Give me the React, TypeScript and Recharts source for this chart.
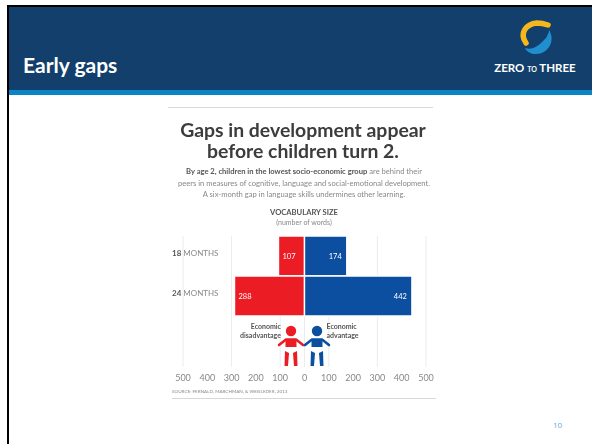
import React from "react";
import { Bar, BarChart, CartesianGrid, LabelList, XAxis, YAxis } from "recharts";

const months = ["18", "24"];
const disadvantage = [107, 288];
const advantage = [174, 442];
const axisTicks = [-500, -400, -300, -200, -100, 0, 100, 200, 300, 400, 500];

const subtitle = [
  "peers in measures of cognitive, language and social-emotional development.",
  "A six-month gap in language skills undermines other learning.",
];

const data = months.map((m, i) => ({
  month: m,
  low: -disadvantage[i],
  high: advantage[i],
}));

const FONT = "Lato, sans-serif";
const RED = "#ec1c24";
const BLUE = "#0c4fa0";

function MonthTick({ y, payload }: any) {
  return (
    <text x={172} y={y} fontFamily={FONT} fontSize={8} fill="#888">
      <tspan fontWeight={700} fill="#555">{payload.value}</tspan> MONTHS
    </text>
  );
}

const centered = (top: number, size: number, color: string, weight = 400): React.CSSProperties => ({
  position: "absolute",
  left: 104,
  width: 400,
  top,
  textAlign: "center",
  fontFamily: FONT,
  fontSize: size,
  lineHeight: `${size + 2}px`,
  color,
  fontWeight: weight,
  whiteSpace: "nowrap",
});

function Kid({ cx, color }: { cx: number; color: string }) {
  return (
    <g>
      <circle cx={cx} cy={331} r={5.2} fill={color} />
      <path
        d={`M${cx - 12} 345 L${cx - 5} 339.5 L${cx + 5} 339.5 L${cx + 12} 345`}
        fill="none"
        stroke={color}
        strokeWidth={2.6}
        strokeLinecap="round"
        strokeLinejoin="round"
      />
      <path d={`M${cx - 5.5} 339 H${cx + 5.5} V347 H${cx - 5.5} Z`} fill={color} />
      <path d={`M${cx - 6} 351 L${cx - 2} 353 L${cx - 3} 366 H${cx - 6.5} Z`} fill={color} />
      <path d={`M${cx + 6} 351 L${cx + 2} 353 L${cx + 3} 366 H${cx + 6.5} Z`} fill={color} />
    </g>
  );
}

function Logo() {
  return (
    <svg style={{ position: "absolute", left: 510, top: 14 }} width={56} height={46} viewBox="510 14 56 46">
      <path d="M526 43 C519 33 526 24 537 23 C541 23 545 24 548 25" fill="none" stroke="#f6b71c" strokeWidth={5.5} strokeLinecap="round" />
      <path d="M549 30 C556 41 548 54 536 54 C531 54 527 52 525 48 C532 50 536 47 541 43 L546 38 C547 36 549 33 549 30 Z" fill="#1f8fd0" />
    </svg>
  );
}

export default function App() {
  return (
    <div style={{ position: "absolute", left: 0, top: 0, width: 592, height: 444, background: "#fff", overflow: "hidden" }}>
      {/* slide frame */}
      <div style={{ position: "absolute", left: 7, top: 5, width: 2, height: 439, background: "#000" }} />
      <div style={{ position: "absolute", left: 7, top: 5, width: 585, height: 2, background: "#000" }} />
      <div style={{ position: "absolute", left: 9, top: 7, width: 583, height: 83, background: "#123f6b" }} />
      <div style={{ position: "absolute", left: 9, top: 90, width: 583, height: 5, background: "#0a84c4" }} />
      <div style={{ position: "absolute", left: 23, top: 52, fontFamily: "Lato, sans-serif", fontWeight: 700, fontSize: 21, lineHeight: "26px", color: "#fff" }}>
        Early gaps
      </div>
      <Logo />
      <div style={{ position: "absolute", left: 485, width: 100, top: 61, textAlign: "center", fontFamily: FONT, fontWeight: 700, fontSize: 11.5, lineHeight: "14px", color: "#fff", whiteSpace: "nowrap" }}>
        ZERO <span style={{ fontSize: 7 }}>TO</span> THREE
      </div>
      <div style={{ position: "absolute", left: 553, top: 420, fontFamily: "Open Sans, sans-serif", fontSize: 8, lineHeight: "10px", color: "#5aaedb" }}>10</div>

      {/* infographic */}
      <div style={{ position: "absolute", inset: 0, filter: "blur(0.4px)" }}>
        <div style={{ position: "absolute", left: 168, top: 107, width: 265, height: 1, background: "#d8d8d8" }} />
        <div style={{ ...centered(119, 19.4, "#3c3c3c", 700), left: 103 }}>Gaps in development appear</div>
        <div style={{ ...centered(140, 19.4, "#3c3c3c", 700), left: 103 }}>before children turn 2.</div>
        <div style={centered(167, 7.6, "#888")}>
          <span style={{ fontWeight: 700, color: "#555" }}>By age 2, children in the lowest socio-economic group</span> are behind their
        </div>
        <div style={centered(178.5, 7.6, "#888")}>{subtitle[0]}</div>
        <div style={centered(190, 7.6, "#888")}>{subtitle[1]}</div>
        <div style={centered(208, 7.6, "#555", 700)}>VOCABULARY SIZE</div>
        <div style={centered(218, 7, "#888")}>(number of words)</div>

        <div style={{ position: "absolute", left: 0, top: 0 }}>
          <BarChart
            width={592}
            height={444}
            data={data}
            layout="vertical"
            stackOffset="sign"
            barCategoryGap={0}
            margin={{ top: 236, right: 166, bottom: 57, left: 182 }}
          >
            <CartesianGrid horizontal={false} stroke="#ececec" />
            <XAxis
              type="number"
              domain={[-500, 500]}
              ticks={axisTicks}
              tickFormatter={(v: number) => String(Math.abs(v))}
              axisLine={false}
              tickLine={false}
              tick={{ fontFamily: FONT, fontSize: 9, fill: "#888" }}
              height={20}
            />
            <YAxis
              type="category"
              dataKey="month"
              width={1}
              interval={0}
              axisLine={false}
              tickLine={false}
              padding={{ top: 0, bottom: 51 }}
              tick={MonthTick}
            />
            <Bar dataKey="low" stackId="a" fill={RED} stroke="#fff" strokeWidth={1.4} isAnimationActive={false}>
              <LabelList
                dataKey="low"
                position="insideRight"
                offset={4}
                formatter={(v: number) => Math.abs(v)}
                style={{ fontFamily: FONT, fontSize: 7.5, fill: "#fff" }}
              />
            </Bar>
            <Bar dataKey="high" stackId="a" fill={BLUE} stroke="#fff" strokeWidth={1.4} isAnimationActive={false}>
              <LabelList
                dataKey="high"
                position="insideRight"
                offset={5}
                style={{ fontFamily: FONT, fontSize: 7.5, fill: "#fff" }}
              />
            </Bar>
          </BarChart>
        </div>

        <svg style={{ position: "absolute", left: 0, top: 0 }} width={592} height={444}>
          <Kid cx={291} color={RED} />
          <Kid cx={317} color={BLUE} />
        </svg>
        <div style={{ position: "absolute", left: 221, width: 60, top: 322, textAlign: "right", fontFamily: FONT, fontWeight: 700, fontSize: 7, lineHeight: "8.6px", color: "#555" }}>
          Economic<br />disadvantage
        </div>
        <div style={{ position: "absolute", left: 326.5, width: 60, top: 322, fontFamily: FONT, fontWeight: 700, fontSize: 7, lineHeight: "8.6px", color: "#555" }}>
          Economic<br />advantage
        </div>
        <div style={{ position: "absolute", left: 172, top: 388, fontFamily: FONT, fontSize: 4.6, lineHeight: "6px", color: "#888", whiteSpace: "nowrap" }}>
          SOURCE: FERNALD, MARCHMAN, &amp; WEISLEDER, 2013
        </div>
        <div style={{ position: "absolute", left: 172, top: 398, width: 264, height: 1, background: "#d8d8d8" }} />
      </div>
    </div>
  );
}
